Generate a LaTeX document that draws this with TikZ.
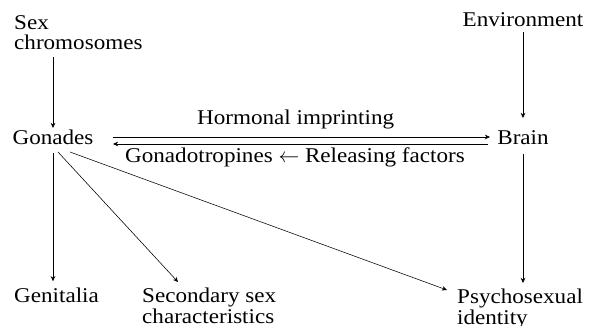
\documentclass[tikz,border=0pt]{standalone}
\usepackage{fontspec}
\setmainfont[FakeStretch=1.1]{Liberation Serif}
\usetikzlibrary{arrows.meta,calc}
\begin{document}
\begin{tikzpicture}[x=1pt,y=-1pt,
  lbl/.style={inner sep=0pt,font=\fontsize{21}{20.5}\selectfont,align=left},
  arr/.style={line width=0.55pt,-{Stealth[length=5pt,width=4.5pt,inset=1.5pt]}}]
  \useasboundingbox (0,0) rectangle (589,326);

  % nodes
  \node[lbl,anchor=north west] (sex) at (14,15) {Sex\\chromosomes};
  \node[lbl,anchor=base] (env) at (523,27) {Environment};
  \node[lbl,anchor=base] (gon) at (53,145) {Gonades};
  \node[lbl,anchor=base] (brain) at (523,145) {Brain};
  \node[lbl,anchor=base west] (gen) at (14,302) {Genitalia};
  \node[lbl,anchor=north west] (sec) at (142,288) {Secondary sex\\characteristics};
  \node[lbl,anchor=north west] (psy) at (457,289) {Psychosexual\\identity};
  \node[lbl,anchor=base west] (horm) at (197,125) {Hormonal imprinting};
  \node[lbl,anchor=base west] (rel) at (125,162) {Gonadotropines $\leftarrow$ Releasing factors};

  % connectors
  \draw[arr] ($(sex.south -| gon.base)+(0,7)$) -- ($(gon.base)+(0,-17)$);
  \draw[arr] ($(env.base)+(0,5)$) -- ($(brain.base)+(0,-27)$);
  \draw[arr] ($(gon.base)+(60,-8)$) -- ($(brain.base)+(-33,-8)$);
  \draw[arr] ($(brain.base)+(-35,-1)$) -- ($(gon.base)+(60,-1)$);
  \draw[arr] ($(gon.base)+(0,8)$) -- ($(gon.base |- gen.north)+(0,-6)$);
  \draw[arr] ($(gon.base)+(5,7)$) -- ($(sec.north west)+(36,-6)$);
  \draw[arr] ($(gon.base)+(17,7)$) -- ($(psy.north west)+(-10,1)$);
  \draw[arr] ($(brain.base)+(0,9)$) -- ($(brain.base |- psy.north)+(0,-6)$);
\end{tikzpicture}
\end{document}
